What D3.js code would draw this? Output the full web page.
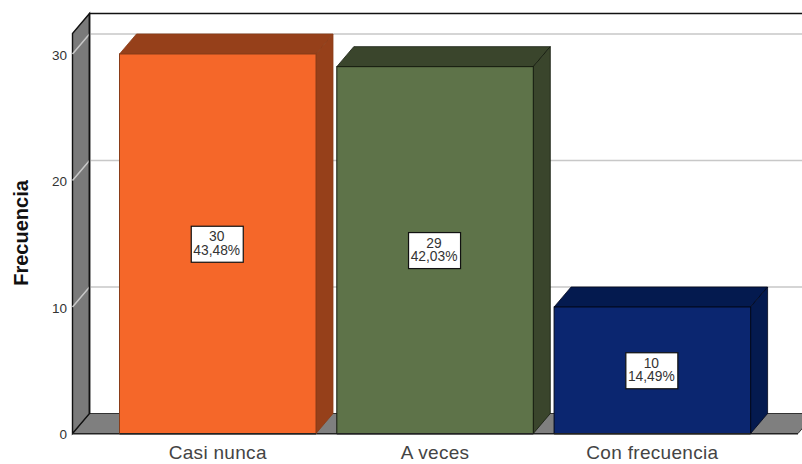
<!DOCTYPE html>
<html><head><meta charset="utf-8">
<script src="https://cdn.jsdelivr.net/npm/d3@7/dist/d3.min.js"></script>
<style>html,body{margin:0;padding:0;background:#fff}svg{display:block}text{font-family:"Liberation Sans",Arial,sans-serif}</style>
</head><body><svg id="c" width="802" height="464"></svg>
<script>
const categories = ["Casi nunca","A veces","Con frecuencia"];
const counts = [30,29,10];
const percents = ["43,48%","42,03%","14,49%"];
const frontColors = ["#F56729","#5E7349","#0B2670"];
const darkColors = ["#96401A","#3A452C","#041A4F"];
const edgeColors = ["#8a3c18","#141a0e","#02081c"];
const yTicks = [0,10,20,30];
const yTitle = "Frecuencia";

const svg = d3.select("#c");
const dx = 17, dy = -20;
const y = d3.scaleLinear().domain([0,30]).range([433.5,54]);
const x = d3.scaleBand().domain(categories).range([119.5,750.6]).paddingInner(0.0957).paddingOuter(0);
const left = 72.5, right = 798, backTop = 13.5, frontTop = 33.5;
const line = d3.line();
const poly = pts => line(pts)+"Z";

svg.append("path").attr("d",poly([[left,y(0)],[left+dx,y(0)+dy],[right+dx,y(0)+dy],[right,y(0)]]))
  .attr("fill","#7F7F7F").attr("stroke","#333").attr("stroke-width",1);
svg.append("path").attr("d",poly([[left,y(0)],[left,frontTop],[left+dx,backTop],[left+dx,y(0)+dy]]))
  .attr("fill","#7A7A7A").attr("stroke","#111").attr("stroke-width",1.4);
svg.append("line").attr("x1",left+dx).attr("x2",802).attr("y1",backTop).attr("y2",backTop).attr("stroke","#111").attr("stroke-width",1.6);
svg.append("line").attr("x1",left).attr("x2",right).attr("y1",y(0)+.3).attr("y2",y(0)+.3).attr("stroke","#222").attr("stroke-width",1.4);

yTicks.filter(d=>d>0).forEach(d=>{
  svg.append("path").attr("d",line([[left,y(d)],[left+dx,y(d)+dy],[802,y(d)+dy]]))
    .attr("fill","none").attr("stroke","#C8C8C8").attr("stroke-width",1.5);
});
svg.append("line").attr("x1",left+dx).attr("x2",left+dx).attr("y1",backTop).attr("y2",y(0)+dy).attr("stroke","#111").attr("stroke-width",1.6);

svg.selectAll(".yt").data(yTicks).join("text").attr("class","yt")
  .attr("x",67).attr("y",d=>y(d)+5.5).attr("text-anchor","end").attr("font-size",13.5).attr("fill","#333").text(d=>d);

categories.forEach((c,i)=>{
  const v = counts[i], bw = x.bandwidth();
  const xl = x(c), xr = xl+bw, yt = y(v), yb = y(0), e = edgeColors[i];
  svg.append("path").attr("d",poly([[xl,yt],[xl+dx,yt+dy],[xr+dx,yt+dy],[xr,yt]]))
    .attr("fill",darkColors[i]).attr("stroke",e).attr("stroke-width",0.8);
  svg.append("path").attr("d",poly([[xr,yt],[xr+dx,yt+dy],[xr+dx,yb+dy],[xr,yb]]))
    .attr("fill",darkColors[i]).attr("stroke",e).attr("stroke-width",0.8);
  svg.append("rect").attr("x",xl).attr("y",yt).attr("width",bw).attr("height",yb-yt)
    .attr("fill",frontColors[i]).attr("stroke",e).attr("stroke-width",1);
  svg.append("line").attr("x1",xl).attr("x2",xr).attr("y1",yb+.3).attr("y2",yb+.3).attr("stroke","#222").attr("stroke-width",1.4);
  const cx = xl+bw/2, cy = (yt+yb)/2+.5;
  svg.append("rect").attr("x",cx-26.5).attr("y",cy-18).attr("width",52).attr("height",36)
    .attr("fill","#fff").attr("stroke","#111").attr("stroke-width",1.2);
  svg.append("text").attr("x",cx-1).attr("y",cy-3).attr("text-anchor","middle").attr("font-size",13.8).attr("fill","#333").text(v);
  svg.append("text").attr("x",cx-1).attr("y",cy+10.5).attr("text-anchor","middle").attr("font-size",13.8).attr("fill","#333").text(percents[i]);
  svg.append("text").attr("x",cx).attr("y",459).attr("text-anchor","middle").attr("font-size",19).attr("letter-spacing",0.3).attr("fill","#444").text(c);
});

svg.append("text").attr("transform","translate(28,233) rotate(-90)").attr("text-anchor","middle")
  .attr("font-size",20).attr("font-weight","bold").attr("fill","#111").text(yTitle);
</script></body></html>
